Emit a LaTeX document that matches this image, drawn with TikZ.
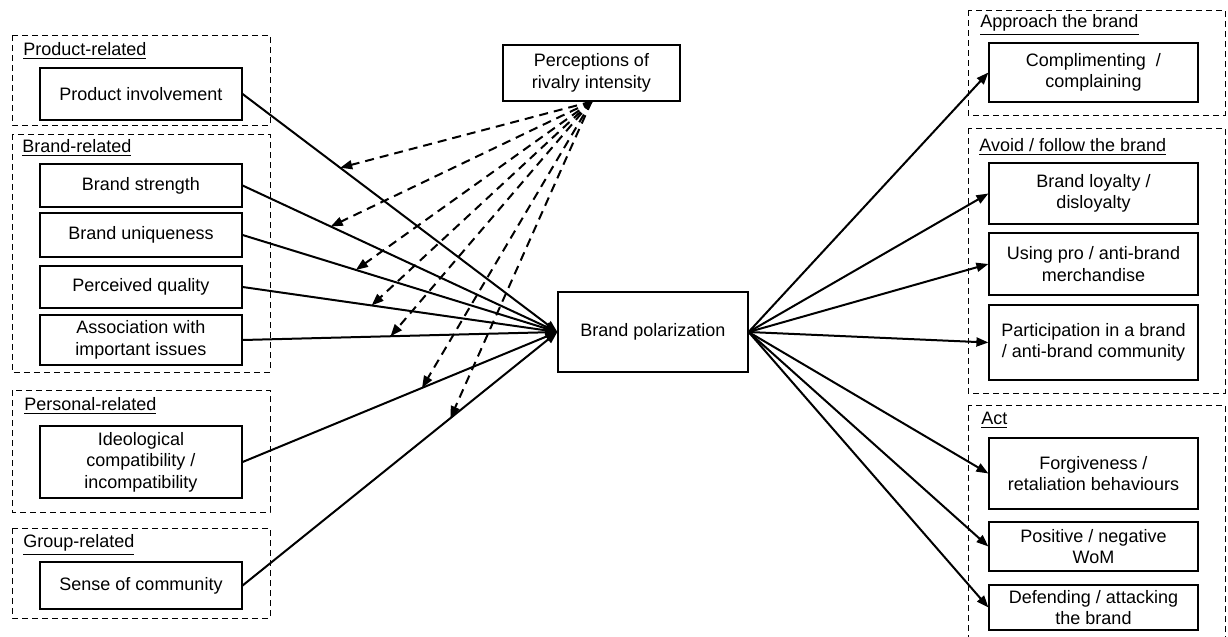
\documentclass[tikz,border=0pt]{standalone}
\usepackage{fontspec}
\setmainfont{Liberation Sans}
\usetikzlibrary{arrows.meta}
\tikzset{
  box/.style={draw, line width=0.6pt, align=center, inner sep=1pt},
  leftbox/.style={box, minimum width=101pt},
  rightbox/.style={box, minimum width=104.5pt},
  groupframe/.style={draw, line width=0.5pt, dash pattern=on 3pt off 2pt},
  grouptitle/.style={anchor=west, inner sep=0pt},
  effect/.style={line width=1pt, -{Triangle[length=6pt, width=4.5pt]}},
  moderate/.style={line width=1pt, dash pattern=on 4.5pt off 3pt, -{Triangle[length=6pt, width=4.5pt]}}
}
\begin{document}
\begin{tikzpicture}[x=0.5pt, y=-0.5pt, font=\fontsize{9}{10.8}\selectfont]
  \useasboundingbox (0, 0) rectangle (1228, 637);

  \draw [groupframe] (12, 35) rectangle (270, 125);
  \draw [groupframe] (12, 134) rectangle (270, 372);
  \draw [groupframe] (12, 390) rectangle (270, 512);
  \draw [groupframe] (12, 528) rectangle (270, 618);
  \node [grouptitle] (tprod) at (23, 51) {\underline{Product-related}};
  \node [grouptitle] (tbrand) at (22, 148) {\underline{Brand-related}};
  \node [grouptitle] (tpers) at (24, 406) {\underline{Personal-related}};
  \node [grouptitle] (tgroup) at (23, 545) {\underline{Group-related}};

  \node [leftbox, minimum height=26pt] (pi) at (141, 94) {Product involvement};
  \node [leftbox, minimum height=21.5pt] (bs) at (141, 185.5) {Brand strength};
  \node [leftbox, minimum height=22pt] (bu) at (141, 235) {Brand uniqueness};
  \node [leftbox, minimum height=21pt] (pq) at (141, 287) {Perceived quality};
  \node [leftbox, minimum height=25pt] (ai) at (141, 340) {Association with\\important issues};
  \node [leftbox, minimum height=36pt] (ic) at (141, 462) {Ideological\\compatibility /\\incompatibility};
  \node [leftbox, minimum height=23.5pt] (sc) at (141, 585.5) {Sense of community};

  \node [box, minimum width=95pt, minimum height=40pt] (bp) at (653, 332) {Brand polarization};
  \node [box, minimum width=88.5pt, minimum height=28pt] (ri) at (591.5, 73) {Perceptions of\\rivalry intensity};

  \draw [groupframe] (968, 10) rectangle (1225, 115);
  \draw [groupframe] (968, 128) rectangle (1225, 393);
  \draw [groupframe] (968, 405) rectangle (1225, 650);
  \node [grouptitle] (tappr) at (980, 25) {\underline{Approach the brand}};
  \node [grouptitle] (tavoid) at (979, 147) {\underline{Avoid / follow the brand}};
  \node [grouptitle] (tact) at (981, 420) {\underline{Act}};

  \node [rightbox, minimum height=29.5pt] (cc) at (1093.5, 72.5) {Complimenting~ /\\complaining};
  \node [rightbox, minimum height=30.5pt] (bl) at (1093.5, 193.5) {Brand loyalty /\\disloyalty};
  \node [rightbox, minimum height=31pt] (up) at (1093.5, 264) {Using pro / anti-brand\\merchandise};
  \node [rightbox, minimum height=37.5pt] (pa) at (1093.5, 342.5) {Participation in a brand\\/ anti-brand community};
  \node [rightbox, minimum height=35.5pt] (fr) at (1093.5, 473.5) {Forgiveness /\\retaliation behaviours};
  \node [rightbox, minimum height=24.5pt] (pn) at (1093.5, 546.5) {Positive / negative\\WoM};
  \node [rightbox, minimum height=22.5pt] (da) at (1093.5, 607.5) {Defending / attacking\\the brand};

  \draw [effect] (pi.east) -- coordinate[pos=0.31] (mpi) (bp.west);
  \draw [effect] (bs.east) -- coordinate[pos=0.28] (mbs) (bp.west);
  \draw [effect] (bu.east) -- coordinate[pos=0.36] (mbu) (bp.west);
  \draw [effect] (pq.east) -- coordinate[pos=0.41] (mpq) (bp.west);
  \draw [effect] (ai.east) -- coordinate[pos=0.47] (mai) (bp.west);
  \draw [effect] (ic.east) -- coordinate[pos=0.57] (mic) (bp.west);
  \draw [effect] (sc.east) -- coordinate[pos=0.66] (msc) (bp.west);

  \draw [moderate] (ri.south) -- (mpi);
  \draw [moderate] (ri.south) -- (mbs);
  \draw [moderate] (ri.south) -- (mbu);
  \draw [moderate] (ri.south) -- (mpq);
  \draw [moderate] (ri.south) -- (mai);
  \draw [moderate] (ri.south) -- (mic);
  \draw [moderate] (ri.south) -- (msc);

  \draw [effect] (bp.east) -- (cc.west);
  \draw [effect] (bp.east) -- (bl.west);
  \draw [effect] (bp.east) -- (up.west);
  \draw [effect] (bp.east) -- (pa.west);
  \draw [effect] (bp.east) -- (fr.west);
  \draw [effect] (bp.east) -- (pn.west);
  \draw [effect] (bp.east) -- (da.west);
\end{tikzpicture}
\end{document}
